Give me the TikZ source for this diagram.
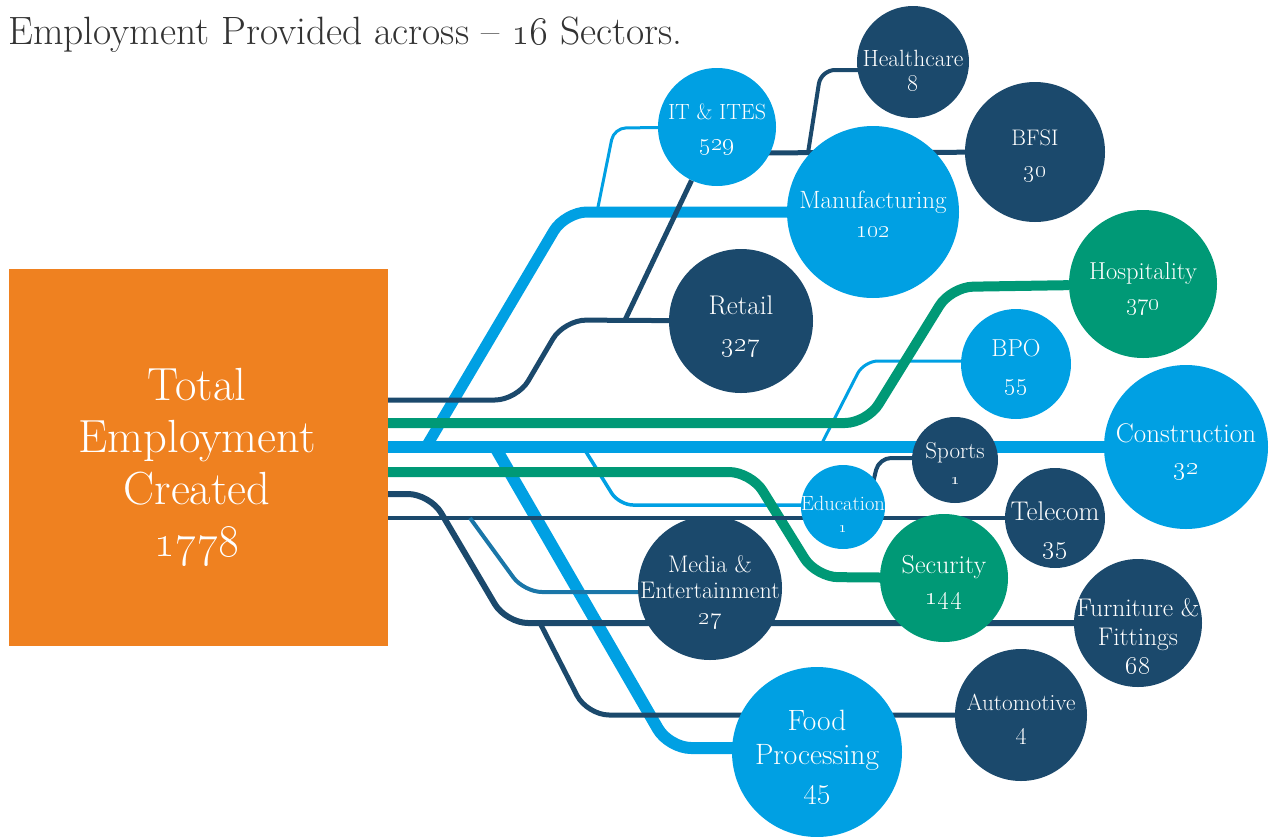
\RequirePackage{fix-cm}
\documentclass[tikz,border=0pt]{standalone}
\usetikzlibrary{calc}
\definecolor{navy}{RGB}{27,73,108}
\definecolor{skyblue}{RGB}{0,160,227}
\definecolor{teal}{RGB}{0,153,118}
\definecolor{boxorange}{RGB}{239,129,32}
\definecolor{midblue}{RGB}{26,118,168}
\definecolor{titlegray}{RGB}{51,51,51}
\pgfdeclarelayer{bg}
\pgfsetlayers{bg,main}
\newcommand\fs[2]{\fontsize{#1}{#2}\selectfont}
\newcommand\nm[2]{{\fontsize{#1}{#1}\selectfont\oldstylenums{#2}}}
\tikzset{
  circ/.style={circle, inner sep=0pt, minimum size=#1},
  lbl/.style={text=white, align=center, inner sep=0pt},
  conn/.style={rounded corners=#1, line join=round},
  conn/.default=22pt,
}
\begin{document}
\begin{tikzpicture}[x=1pt,y=-1pt]
\useasboundingbox (0,0) rectangle (1270,836);

% title
\node[anchor=base west, inner sep=0pt, text=titlegray, font=\fs{39.5}{42}] (title) at (8,44) {Employment Provided across -- \nm{39.5}{16} Sectors.};

% box
\node[fill=boxorange, minimum width=379pt, minimum height=377pt, inner sep=0pt, anchor=north west] (box) at (9,269) {};
\node[lbl, font=\fs{46.5}{52}] (boxtext) at (197,467) {Total\\Employment\\Created\\\nm{45}{1778}};

% circles
\node[circ=112pt, fill=navy] (healthcare) at (913,62) {};
\node[circ=118pt, fill=skyblue] (it) at (717,127) {};
\node[circ=140pt, fill=navy] (bfsi) at (1035,152) {};
\node[circ=172pt, fill=skyblue] (manufacturing) at (873,212) {};
\node[circ=148pt, fill=teal] (hospitality) at (1143,284) {};
\node[circ=144pt, fill=navy] (retail) at (741,321) {};
\node[circ=110pt, fill=skyblue] (bpo) at (1016,364) {};
\node[circ=164pt, fill=skyblue] (construction) at (1186,447) {};
\node[circ=86pt, fill=navy] (sports) at (955,460) {};
\node[circ=84pt, fill=skyblue] (education) at (843,507) {};
\node[circ=100pt, fill=navy] (telecom) at (1055,518) {};
\node[circ=128pt, fill=teal] (security) at (944,578) {};
\node[circ=144pt, fill=navy] (media) at (710,588) {};
\node[circ=128pt, fill=navy] (furniture) at (1138,623) {};
\node[circ=132pt, fill=navy] (automotive) at (1021,715) {};
\node[circ=170pt, fill=skyblue] (food) at (817,752) {};

% labels
\node[lbl, font=\fs{23.5}{25}] at (913,71) {Healthcare\\\nm{24}{8}};
\node[lbl, font=\fs{22}{31}] at (717,130) {IT \& ITES\\\nm{25}{529}};
\node[lbl, font=\fs{22.5}{32}] at (1035,156) {BFSI\\\nm{24}{30}};
\node[lbl, font=\fs{25}{29}] at (873,214) {Manufacturing\\\nm{24}{102}};
\node[lbl, font=\fs{24.5}{31}] at (1143,289) {Hospitality\\\nm{24}{370}};
\node[lbl, font=\fs{27}{37}] at (741,326) {Retail\\\nm{27}{327}};
\node[lbl, font=\fs{24.5}{34}] at (1016,367) {BPO\\\nm{25}{55}};
\node[lbl, font=\fs{27}{32}] at (1186,452) {Construction\\\nm{26}{32}};
\node[lbl, font=\fs{23}{26}] at (955,463) {Sports\\\nm{16}{1}};
\node[lbl, font=\fs{20.5}{22}] at (843,514) {Education\\\nm{15}{1}};
\node[lbl, font=\fs{27}{33}] at (1055,530) {Telecom\\\nm{26}{35}};
\node[lbl, font=\fs{26}{31}] at (944,582) {Security\\\nm{26}{144}};
\node[lbl, font=\fs{24}{26}] at (710,592) {Media \&\\Entertainment\\\nm{24}{27}};
\node[lbl, font=\fs{25.5}{29}] at (1138,636) {Furniture \&\\Fittings\\\nm{26}{68}};
\node[lbl, font=\fs{23.2}{29}] at (1021,719) {Automotive\\\nm{24}{4}};
\node[lbl, font=\fs{29.4}{34}] at (817,757) {Food\\Processing\\\nm{29}{45}};

\begin{pgfonlayer}{bg}
% start points on the box edge
\coordinate (o1) at (388,400);
\coordinate (o2) at (388,423);
\coordinate (o3) at (388,447);
\coordinate (o4) at (388,472);
\coordinate (o5) at (388,494);
\coordinate (o6) at (388,518);
% junctions and bends
\coordinate (j1) at (625,320);
\coordinate (j2) at (808,153);
\coordinate (hc) at (821,70);
\coordinate (j3) at (426,447);
\coordinate (j4) at (597,212);
\coordinate (j5) at (495,447);
\coordinate (fp) at (669,748);
\coordinate (j6) at (583,447);
\coordinate (ed) at (619,505);
\coordinate (j7) at (820,447);
\coordinate (bp) at (864,361);
\coordinate (fu) at (506,623);
\coordinate (j8) at (540,623);
\coordinate (au) at (587,715);
\coordinate (j9) at (470,518);
\coordinate (me) at (524,592);
\coordinate (j10) at (870,495);
\coordinate (sp) at (879,458);

% bright blue
\draw[skyblue, line width=12pt] (o3) -- (construction);
\draw[conn, skyblue, line width=11pt] (j3) -- (565,212) -- (manufacturing);
\draw[conn=12pt, skyblue, line width=3pt] (j4) -- (614,128) -- (it);
\draw[conn, skyblue, line width=12pt] (j5) -- (fp) -- (food.center |- fp);
\draw[conn=14pt, skyblue, line width=3.5pt] (j6) -- (ed) -- (education.center |- ed);
\draw[conn=14pt, skyblue, line width=3pt] (j7) -- (bp) -- (bpo.center |- bp);

% green
\draw[conn, teal, line width=10pt] (o2) -- (867,423) -- (951,287) -- (hospitality);
\draw[conn, teal, line width=10pt] (o4) -- (751,472) -- (816,577) -- (security);

% navy
\draw[conn, navy, line width=5pt] (o1) -- (517,400) -- (564,320) -- (retail);
\draw[navy, line width=5pt] (j1) -- (it);
\draw[navy, line width=5pt] (it.center |- j2) -- (bfsi);
\draw[conn=14pt, navy, line width=4pt] (j2) -- (hc) -- (healthcare.center |- hc);
\draw[conn, navy, line width=6pt] (o5) -- (430,494) -- (fu) -- (furniture.center |- fu);
\draw[conn, navy, line width=5pt] (j8) -- (au) -- (automotive);
\draw[navy, line width=4pt] (o6) -- (telecom);
\draw[conn=18pt, midblue, line width=4pt] (j9) -- (me) -- (media.center |- me);
\draw[conn=12pt, navy, line width=4pt] (j10) -- (sp) -- (sports.center |- sp);
\end{pgfonlayer}
\end{tikzpicture}
\end{document}
